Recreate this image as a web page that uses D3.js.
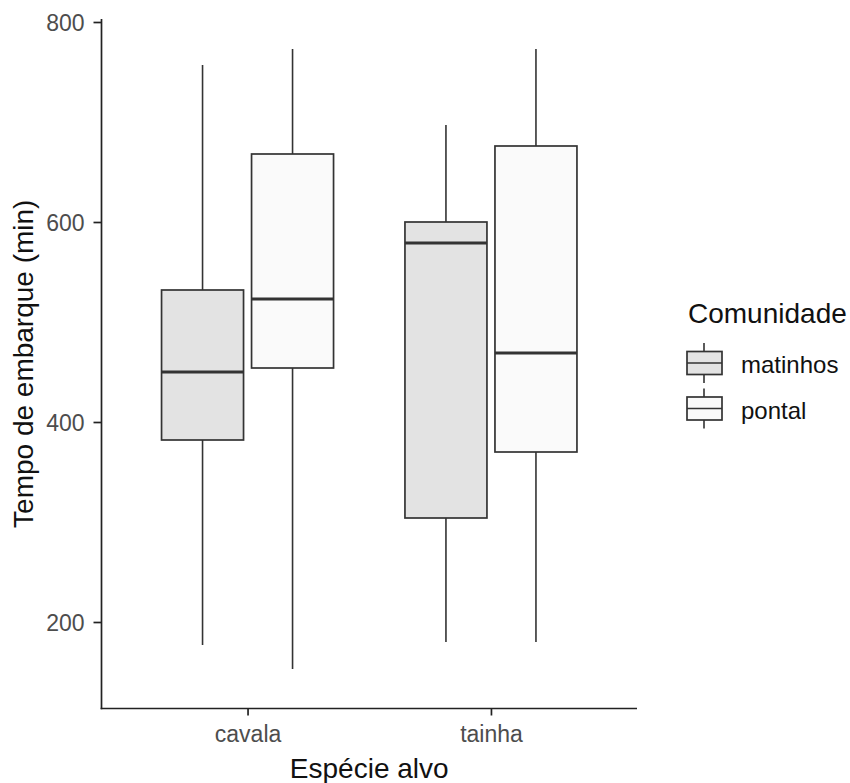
<!DOCTYPE html>
<html>
<head>
<meta charset="utf-8">
<script src="https://cdn.jsdelivr.net/npm/d3@7/dist/d3.min.js"></script>
<style>
  body { margin: 0; background: #fff; }
  text { font-family: "Liberation Sans", Arial, sans-serif; }
</style>
</head>
<body>
<script>
// Chart data
let especies = ["cavala", "tainha"];
let comunidades = ["matinhos", "pontal"];
// order: cavala-matinhos, cavala-pontal, tainha-matinhos, tainha-pontal
let minimos  = [177, 153, 180, 180];
let quartil1 = [382, 454, 304, 370];
let medianas = [450, 523, 579, 469];
let quartil3 = [532, 668, 600, 676];
let maximos  = [757, 773, 697, 773];
let yTicks = [200, 400, 600, 800];
let fills = ["#e3e3e3", "#fafafa"];

// SVG dimensions
let svgWidth = 850;
let svgHeight = 783;
let panel = { left: 101.5, right: 637, top: 19, bottom: 708.5 };

let svg = d3.select("body")
            .append("svg")
            .attr("width", svgWidth)
            .attr("height", svgHeight);

// Build the box table from the arrays
let boxes = [];
especies.forEach((e, i) => {
    comunidades.forEach((c, j) => {
        let k = i * comunidades.length + j;
        boxes.push({ especie: e, comunidade: c, fill: fills[j],
                     min: minimos[k], q1: quartil1[k], med: medianas[k],
                     q3: quartil3[k], max: maximos[k] });
    });
});

// Scales
let xScale = d3.scalePoint().domain(especies).range([panel.left, panel.right]).padding(0.6);
let dodge = d3.scaleBand().domain(comunidades).range([-86, 86]).paddingInner(0.089);
let yScale = d3.scaleLinear().domain([114, 803]).range([708, 19]);

// Boxes
let g = svg.append("g");
let box = g.selectAll("g.box")
           .data(boxes)
           .enter()
           .append("g")
           .attr("class", "box")
           .attr("transform", d => `translate(${xScale(d.especie) + dodge(d.comunidade)}, 0)`);

let bw = dodge.bandwidth();
box.append("line")
   .attr("x1", bw / 2).attr("x2", bw / 2)
   .attr("y1", d => yScale(d.max)).attr("y2", d => yScale(d.q3))
   .attr("stroke", "#333").attr("stroke-width", 1.6);
box.append("line")
   .attr("x1", bw / 2).attr("x2", bw / 2)
   .attr("y1", d => yScale(d.q1)).attr("y2", d => yScale(d.min))
   .attr("stroke", "#333").attr("stroke-width", 1.6);
box.append("rect")
   .attr("x", 0).attr("width", bw)
   .attr("y", d => yScale(d.q3))
   .attr("height", d => yScale(d.q1) - yScale(d.q3))
   .attr("fill", d => d.fill)
   .attr("stroke", "#333").attr("stroke-width", 1.7);
box.append("line")
   .attr("x1", 0).attr("x2", bw)
   .attr("y1", d => yScale(d.med)).attr("y2", d => yScale(d.med))
   .attr("stroke", "#333").attr("stroke-width", 3);

// Axes
let yAxis = d3.axisLeft(yScale).tickValues(yTicks).tickSize(8).tickPadding(9);
let xAxis = d3.axisBottom(xScale).tickSize(7).tickPadding(10);

let yG = svg.append("g").attr("transform", `translate(${panel.left}, 0)`).call(yAxis);
let xG = svg.append("g").attr("transform", `translate(0, ${panel.bottom})`).call(xAxis);

[yG, xG].forEach(a => {
    a.select(".domain").remove();
    a.selectAll(".tick line").attr("stroke", "#222").attr("stroke-width", 1.7);
    a.selectAll(".tick text").attr("fill", "#4d4d4d").style("font-size", "23px");
});
yG.selectAll(".tick text").attr("dy", "0.38em");

// axis lines
svg.append("line")
   .attr("x1", panel.left).attr("x2", panel.left)
   .attr("y1", panel.top).attr("y2", panel.bottom + 0.85)
   .attr("stroke", "#222").attr("stroke-width", 1.7);
svg.append("line")
   .attr("x1", panel.left - 0.85).attr("x2", panel.right)
   .attr("y1", panel.bottom).attr("y2", panel.bottom)
   .attr("stroke", "#222").attr("stroke-width", 1.7);

// Axis titles
svg.append("text")
   .attr("x", (panel.left + panel.right) / 2).attr("y", 778)
   .attr("text-anchor", "middle")
   .style("font-size", "28px").attr("fill", "#111")
   .text("Espécie alvo");
svg.append("text")
   .attr("transform", `translate(33, ${(panel.top + panel.bottom) / 2}) rotate(-90)`)
   .attr("text-anchor", "middle")
   .style("font-size", "28px").attr("fill", "#111")
   .text("Tempo de embarque (min)");

// Legend
let legend = svg.append("g").attr("transform", "translate(687, 0)");
legend.append("text")
      .attr("x", 1).attr("y", 323)
      .style("font-size", "28px").attr("fill", "#111")
      .text("Comunidade");

let keys = legend.selectAll("g.key")
                 .data(comunidades)
                 .enter()
                 .append("g")
                 .attr("class", "key")
                 .attr("transform", (d, i) => `translate(0, ${363 + i * 45.5})`);
keys.append("line")
    .attr("x1", 17).attr("x2", 17).attr("y1", -20).attr("y2", 20)
    .attr("stroke", "#333").attr("stroke-width", 1.6);
keys.append("rect")
    .attr("x", 0).attr("y", -11.5).attr("width", 35).attr("height", 23)
    .attr("fill", (d, i) => fills[i])
    .attr("stroke", "#333").attr("stroke-width", 1.7);
keys.append("line")
    .attr("x1", 0).attr("x2", 35).attr("y1", 0).attr("y2", 0)
    .attr("stroke", "#333").attr("stroke-width", 1.7);
keys.append("text")
    .attr("x", 54).attr("y", 10)
    .style("font-size", "24px").attr("fill", "#111")
    .text(d => d);
</script>
</body>
</html>
